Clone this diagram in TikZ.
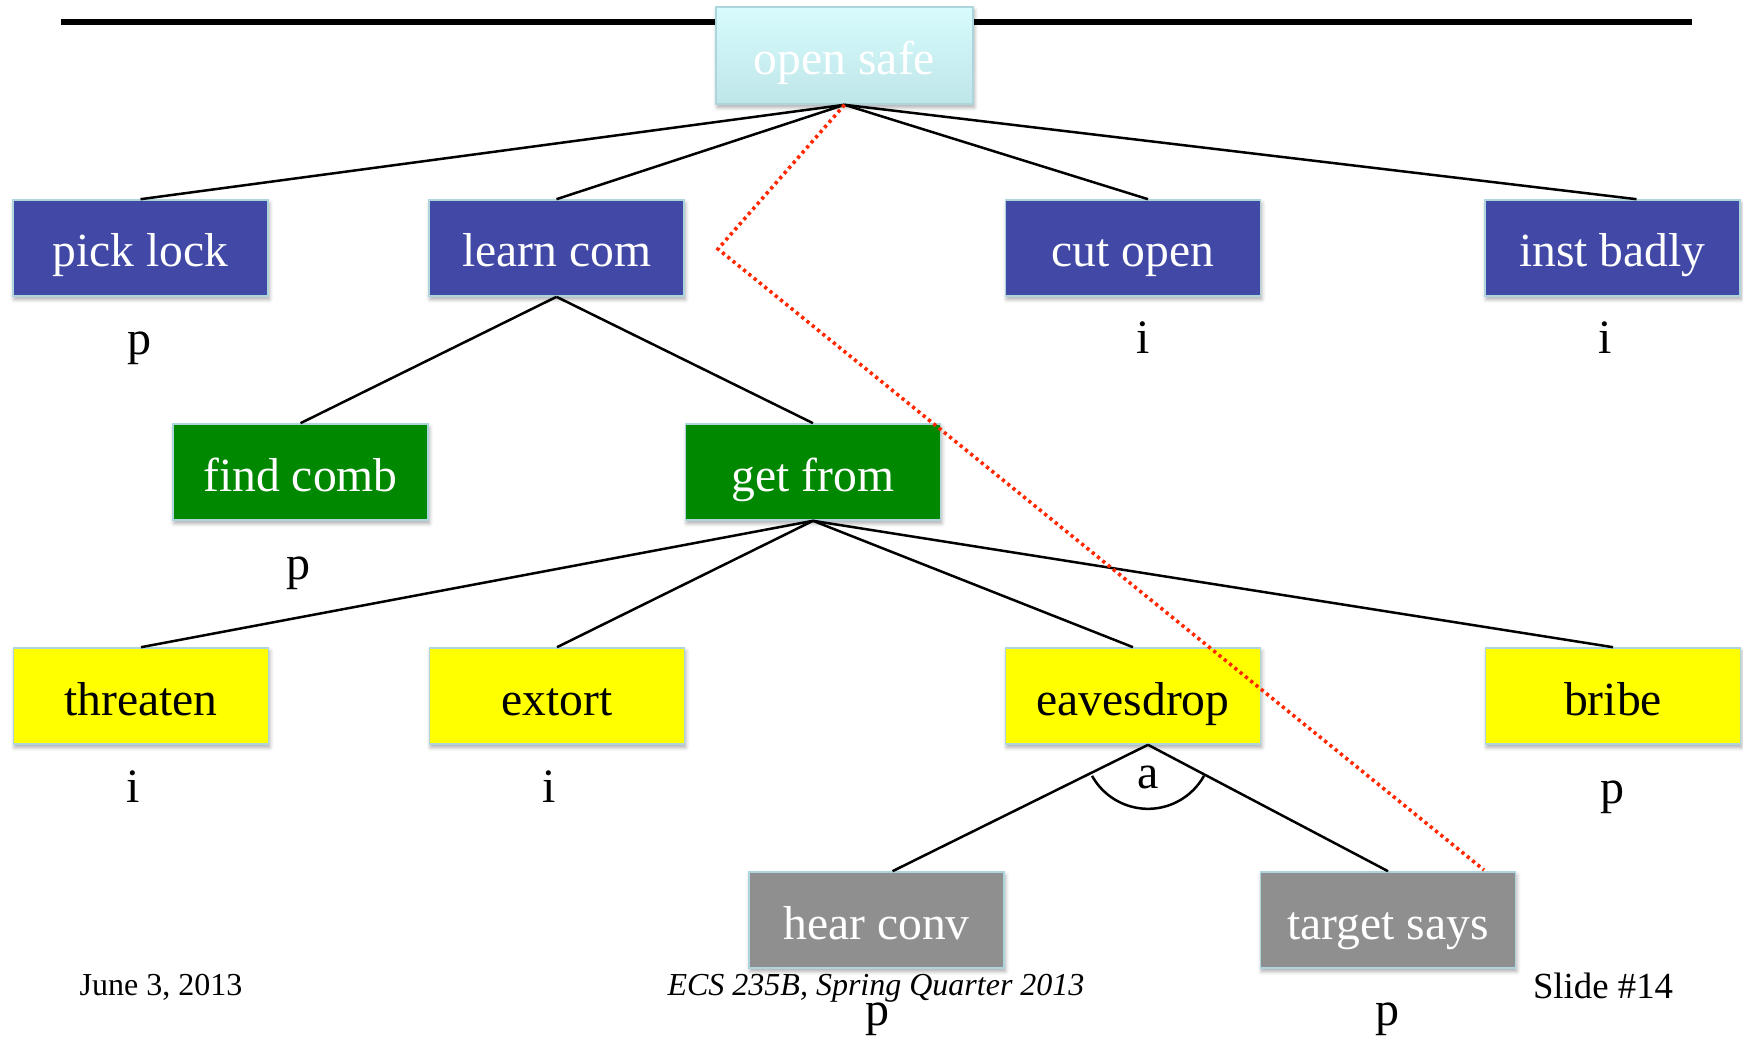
\documentclass[tikz,border=0pt]{standalone}
\usepackage{fontspec}
\setmainfont{Liberation Serif}
\usetikzlibrary{calc,shadows.blur}

\definecolor{edgecyan}{RGB}{172,214,220}
\definecolor{rootTop}{RGB}{216,252,254}
\definecolor{rootBot}{RGB}{190,229,232}
\definecolor{levelblue}{RGB}{66,72,166}
\definecolor{levelgreen}{RGB}{0,136,0}
\definecolor{levelyellow}{RGB}{255,255,0}
\definecolor{levelgray}{RGB}{143,143,143}
\definecolor{cutred}{RGB}{255,40,0}

\begin{document}
\begin{tikzpicture}[x=0.5pt,y=-0.5pt,
  treebox/.style={draw=edgecyan, line width=0.8pt,
    minimum width=127.5pt, minimum height=48pt, inner sep=0pt,
    text height=21.4pt, text depth=2.4pt,
    font=\fontsize{23.8}{28}\selectfont,
    blur shadow={shadow xshift=0.6pt, shadow yshift=-1.6pt,
      shadow blur radius=2pt, shadow opacity=35}},
  rootbox/.style={treebox, top color=rootTop, bottom color=rootBot,
    text=white, minimum width=128.5pt, minimum height=48.5pt},
  bluebox/.style={treebox, fill=levelblue, text=white},
  greenbox/.style={treebox, fill=levelgreen, text=white},
  yellowbox/.style={treebox, fill=levelyellow, text=black},
  graybox/.style={treebox, fill=levelgray, text=white},
  tag/.style={anchor=base, inner sep=0pt, font=\fontsize{24}{28}\selectfont},
  footer/.style={anchor=base, inner sep=0pt, font=\fontsize{16}{19}\selectfont},
  link/.style={draw=black, line width=1.25pt},
  cutline/.style={draw=cutred, line width=1.8pt, dash pattern=on 1.6pt off 1.8pt}
]
\useasboundingbox (0,0) rectangle (1743,1037);

% title rule behind the goal node
\coordinate (ruleL) at (61,22);
\coordinate (ruleR) at (1692,22);
\draw[line width=3.2pt] (ruleL) -- (ruleR);

% goal
\node[rootbox] (root) at (844.5,55.5) {open safe};

% first level
\node[bluebox] (pick)  at (140.5,248) {pick lock};
\node[bluebox] (learn) at (556.5,248) {learn com};
\node[bluebox] (cut)   at (1133,248)  {cut open};
\node[bluebox] (inst)  at (1612.5,248) {inst badly};

% second level
\node[greenbox] (find) at (300.5,472) {find comb};
\node[greenbox] (get)  at (813,472)   {get from};

% third level
\node[yellowbox] (threat) at (141,696)  {threaten};
\node[yellowbox] (extort) at (557,696)  {extort};
\node[yellowbox] (eaves)  at (1133,696) {eavesdrop};
\node[yellowbox] (bribe)  at (1613,696) {bribe};

% fourth level
\node[graybox] (hear)   at (876.5,920) {hear conv};
\node[graybox] (target) at (1388,920)  {target says};

% connectors
\draw[link] (root.south) -- (pick.north);
\draw[link] (root.south) -- (learn.north);
\draw[link] (root.south) -- ($(cut.north)+(15,0)$);
\draw[link] (root.south) -- ($(inst.north)+(24,0)$);
\draw[link] (learn.south) -- (find.north);
\draw[link] (learn.south) -- (get.north);
\draw[link] (get.south) -- (threat.north);
\draw[link] (get.south) -- (extort.north);
\draw[link] (get.south) -- (eaves.north);
\draw[link] (get.south) -- (bribe.north);
\coordinate (eavesfoot) at ($(eaves.south)+(15,0)$);
\draw[link] (eavesfoot) -- ($(hear.north)+(16,0)$);
\draw[link] (eavesfoot) -- (target.north);
% AND arc
\draw[line width=1.25pt] (eavesfoot) ++(209:32pt) arc[start angle=209, end angle=331, radius=32pt];
\node[tag] (andmark) at (1148,788) {a};

% leaf attributes
\node[tag] (tpick)   at (139,355)  {p};
\node[tag] (tcut)    at (1143,353) {i};
\node[tag] (tinst)   at (1605,353) {i};
\node[tag] (tfind)   at (298,579)  {p};
\node[tag] (tthreat) at (133,802)  {i};
\node[tag] (textort) at (549,802)  {i};
\node[tag] (tbribe)  at (1612,803) {p};
\node[tag] (thear)   at (877,1025) {p};
\node[tag] (ttarget) at (1387,1025) {p};

% cut through the tree
\coordinate (bend) at (718,249);
\coordinate (cutend) at (1484,870);
\draw[cutline] (root.south) -- (bend) -- (cutend);

% footer
\node[footer] (date)  at (161,995)  {June 3, 2013};
\node[footer, font=\fontsize{16}{19}\selectfont\itshape] (course) at (876,995) {ECS 235B, Spring Quarter 2013};
\node[footer, font=\fontsize{18.4}{22}\selectfont] (slide) at (1603,998) {Slide \#14};
\end{tikzpicture}
\end{document}
